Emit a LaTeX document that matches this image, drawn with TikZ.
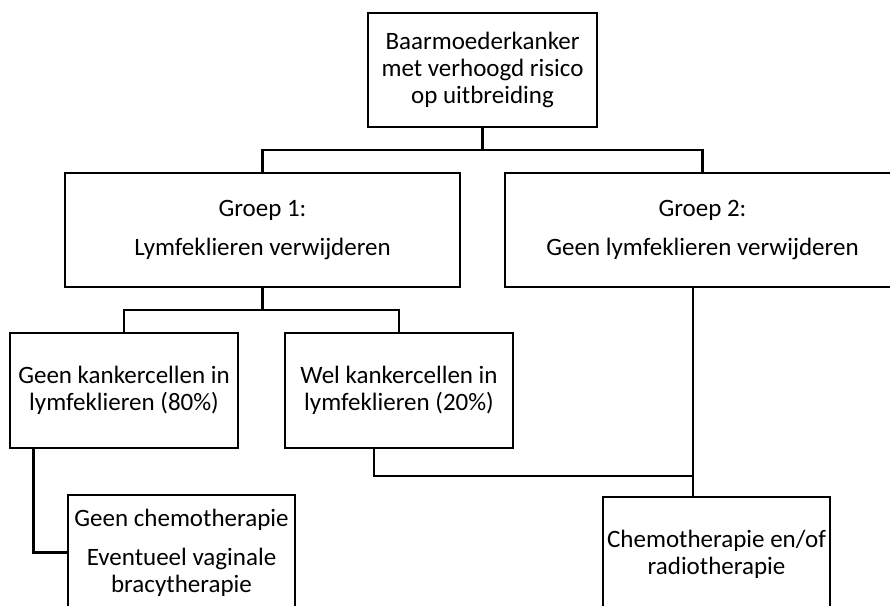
\documentclass[tikz,border=0pt]{standalone}
\usepackage{fontspec}
\setmainfont{Carlito}
\usetikzlibrary{calc}

\begin{document}
\begin{tikzpicture}[x=1pt,y=-1pt,
   box/.style={draw,line width=2.8pt,align=center,inner sep=0pt,
     minimum height=114pt,font=\fontsize{25}{27}\selectfont},
   link/.style={line width=2.8pt}
]
\useasboundingbox (0,0) rectangle (890,605);
\clip (0,0) rectangle (890,605);
  \node[box,minimum width=229pt] (top) at (482.5,70) {Baarmoederkanker\\met verhoogd risico\\op uitbreiding};
  \node[box,minimum width=395pt] (g1) at (262.5,230) {Groep 1:\\[12pt]Lymfeklieren verwijderen};
  \node[box,minimum width=395pt] (g2) at (702.5,230) {Groep 2:\\[12pt]Geen lymfeklieren verwijderen};
  \node[box,minimum width=228pt,minimum height=115pt] (geen) at (124,390.5) {Geen kankercellen in\\lymfeklieren (80\%)};
  \node[box,minimum width=228pt,minimum height=115pt] (wel) at (399,390.5) {Wel kankercellen in\\lymfeklieren (20\%)};
  \node[box,minimum width=227pt,minimum height=115pt] (geenchemo) at (181.5,552.5) {Geen chemotherapie\\[12pt]Eventueel vaginale\\bracytherapie};
  \node[box,minimum width=227pt,minimum height=115pt] (chemo) at (716.5,554.5) {Chemotherapie en/of\\radiotherapie};
% connectors
\coordinate (j1) at (482.5,150);
\coordinate (j2) at (262.5,310);
\coordinate (j3) at (693,476);
\draw[link] (top.south) -- (j1);
\draw[link] (g1.north) |- (j1) -| (g2.north);
\draw[link] (g1.south) -- (j2);
\draw[link] (geen.north) |- (j2) -| (wel.north);
\draw[link] ([xshift=25pt]geen.south west) |- (geenchemo.west);
\draw[link] ([xshift=-25pt]wel.south) |- (j3);
\draw[link] (g2.south -| j3) -- (chemo.north -| j3);
\end{tikzpicture}
\end{document}
